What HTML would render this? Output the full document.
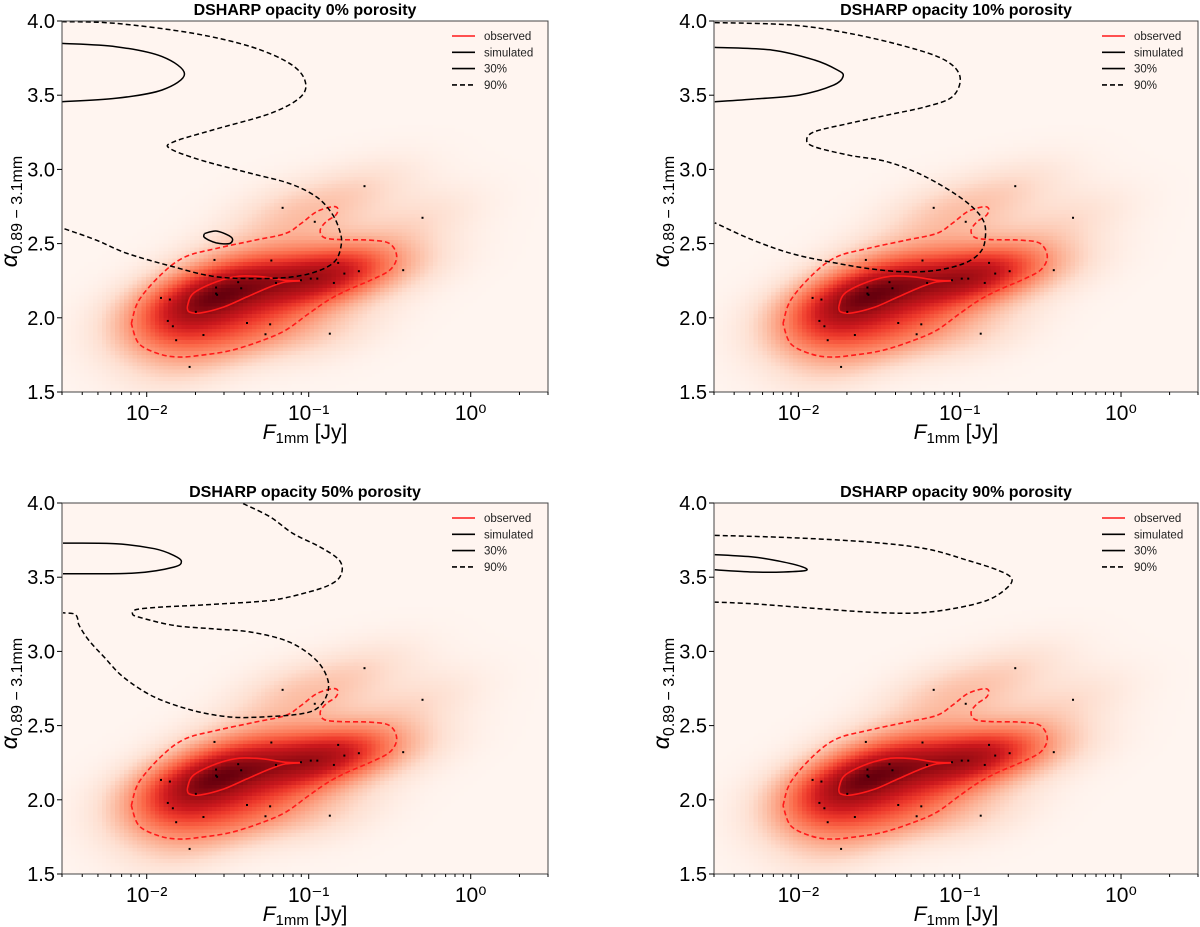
<!DOCTYPE html>
<html><head><meta charset="utf-8">
<style>
html,body{margin:0;padding:0;background:#fff;}
#wrap{position:relative;width:1200px;height:927px;overflow:hidden;font-family:"Liberation Sans","DejaVu Sans",sans-serif;}
canvas{position:absolute;image-rendering:pixelated;}
svg{position:absolute;left:0;top:0;}
</style></head>
<body>
<div id="wrap">
<svg id="svg" width="1200" height="927"></svg>
</div>
<script>
// observed disc data
const fluxJy = [0.221,0.069,0.504,0.109,0.0262,0.0588,0.152,0.383,0.204,0.166,0.103,0.113,0.0896,0.0367,0.0628,0.143,0.0383,0.0268,0.0268,0.0272,0.01225,0.0139,0.0201,0.0135,0.0416,0.0578,0.0145,0.0224,0.0541,0.135,0.0152,0.0184];
const alphaVals = [2.887,2.741,2.674,2.647,2.390,2.386,2.370,2.321,2.314,2.298,2.264,2.264,2.253,2.240,2.235,2.235,2.199,2.204,2.163,2.155,2.134,2.123,2.040,1.979,1.965,1.956,1.943,1.884,1.889,1.893,1.849,1.669];
const xTickLabels = ["10⁻²","10⁻¹","10⁰"];
const xTickValues = [-2,-1,0];
const yTickValues = [1.5,2.0,2.5,3.0,3.5,4.0];
const panelTitles = ["DSHARP opacity 0% porosity","DSHARP opacity 10% porosity","DSHARP opacity 50% porosity","DSHARP opacity 90% porosity"];
// observed contours [log10 F, alpha]
const obs90 = [[-2.095,1.961],[-2.048,2.118],[-1.905,2.298],[-1.762,2.411],[-1.571,2.467],[-1.333,2.523],[-1.143,2.568],[-1.048,2.635],[-0.952,2.714],[-0.857,2.748],[-0.821,2.737],[-0.833,2.692],[-0.893,2.647],[-0.929,2.590],[-0.905,2.541],[-0.810,2.527],[-0.619,2.523],[-0.5,2.5],[-0.457,2.411],[-0.5,2.321],[-0.619,2.253],[-0.762,2.186],[-0.881,2.118],[-1.0,2.028],[-1.143,1.916],[-1.286,1.848],[-1.476,1.781],[-1.667,1.747],[-1.810,1.736],[-1.929,1.759],[-2.048,1.826],[-2.095,1.961]];
const obs30 = [[-1.75,2.073],[-1.714,2.163],[-1.571,2.242],[-1.429,2.280],[-1.286,2.276],[-1.143,2.253],[-1.048,2.249],[-1.143,2.242],[-1.238,2.208],[-1.381,2.141],[-1.524,2.073],[-1.667,2.033],[-1.738,2.040],[-1.75,2.073]];
// simulated contours per panel
const sim90_p0 = [[-2.524,3.996],[-2.190,3.984],[-1.714,3.917],[-1.357,3.827],[-1.119,3.715],[-1.024,3.602],[-1.048,3.490],[-1.238,3.377],[-1.595,3.265],[-1.833,3.186],[-1.857,3.141],[-1.667,3.063],[-1.357,2.973],[-1.119,2.905],[-0.952,2.815],[-0.857,2.703],[-0.810,2.590],[-0.798,2.500],[-0.833,2.388],[-0.929,2.321],[-1.095,2.276],[-1.357,2.264],[-1.595,2.280],[-1.833,2.343],[-2.119,2.433],[-2.310,2.523],[-2.524,2.606]];
const sim30_p0 = [[-2.524,3.849],[-2.190,3.827],[-1.905,3.760],[-1.767,3.643],[-1.905,3.535],[-2.190,3.479],[-2.524,3.456]];
const sim30b_p0 = [[-1.643,2.568],[-1.567,2.584],[-1.476,2.541],[-1.488,2.501],[-1.571,2.505],[-1.643,2.541],[-1.643,2.568]];
const sim90_p1 = [[-2.518,3.989],[-2.043,3.973],[-1.686,3.917],[-1.330,3.827],[-1.093,3.737],[-0.998,3.625],[-1.045,3.490],[-1.211,3.422],[-1.449,3.366],[-1.686,3.310],[-1.900,3.254],[-1.948,3.197],[-1.900,3.152],[-1.686,3.096],[-1.449,3.051],[-1.211,2.950],[-0.974,2.793],[-0.855,2.658],[-0.843,2.523],[-0.879,2.433],[-0.974,2.366],[-1.140,2.321],[-1.330,2.309],[-1.568,2.332],[-1.805,2.377],[-2.043,2.433],[-2.280,2.523],[-2.518,2.640]];
const sim30_p1 = [[-2.518,3.822],[-2.162,3.804],[-1.900,3.737],[-1.758,3.670],[-1.722,3.629],[-1.781,3.568],[-1.995,3.501],[-2.280,3.474],[-2.518,3.456]];
const sim90_p2 = [[-1.405,3.996],[-1.238,3.906],[-1.095,3.793],[-0.929,3.703],[-0.810,3.613],[-0.798,3.523],[-0.857,3.456],[-1.0,3.400],[-1.238,3.344],[-1.595,3.317],[-1.905,3.299],[-2.060,3.283],[-2.088,3.254],[-2.048,3.231],[-1.833,3.175],[-1.595,3.152],[-1.357,3.130],[-1.119,3.063],[-0.952,2.939],[-0.881,2.804],[-0.893,2.692],[-0.952,2.613],[-1.048,2.579],[-1.238,2.561],[-1.476,2.557],[-1.714,2.602],[-1.952,2.692],[-2.143,2.826],[-2.262,2.961],[-2.357,3.074],[-2.417,3.175],[-2.429,3.231],[-2.452,3.254],[-2.517,3.260]];
const sim30_p2 = [[-2.517,3.730],[-2.190,3.726],[-1.952,3.692],[-1.833,3.647],[-1.786,3.607],[-1.833,3.568],[-2.071,3.528],[-2.517,3.523]];
const sim90_p3 = [[-2.518,3.782],[-2.043,3.766],[-1.568,3.737],[-1.211,3.692],[-0.950,3.613],[-0.760,3.546],[-0.677,3.490],[-0.713,3.422],[-0.831,3.344],[-1.045,3.287],[-1.283,3.258],[-1.568,3.265],[-1.924,3.292],[-2.280,3.321],[-2.518,3.332]];
const sim30_p3 = [[-2.518,3.652],[-2.280,3.636],[-2.114,3.607],[-1.983,3.573],[-1.952,3.546],[-2.090,3.535],[-2.280,3.535],[-2.518,3.550]];

const panels = [
 {x0:62,x1:548,y0:21,y1:392,d:[sim90_p0],s:[sim30_p0,sim30b_p0]},
 {x0:714,x1:1198,y0:21,y1:392,d:[sim90_p1],s:[sim30_p1]},
 {x0:62,x1:548,y0:503,y1:874,d:[sim90_p2],s:[sim30_p2]},
 {x0:714,x1:1198,y0:503,y1:874,d:[sim90_p3],s:[sim30_p3]}
];
const LX0=Math.log10(0.003), LX1=Math.log10(3), Y0=1.5, Y1=4.0;
const svg=document.getElementById('svg');
const NS='http://www.w3.org/2000/svg';
function mk(tag,attrs,parent){const e=document.createElementNS(NS,tag);for(const k in attrs)e.setAttribute(k,attrs[k]);(parent||svg).appendChild(e);return e;}
const reds=[[255,245,240],[254,224,210],[252,187,161],[252,146,114],[251,106,74],[239,59,44],[203,24,29],[165,15,21],[103,0,13]];
function cmap(t){t=Math.max(0,Math.min(1,t))*8;const i=Math.min(7,Math.floor(t)),f=t-i;const a=reds[i],b=reds[i+1];return [a[0]+(b[0]-a[0])*f,a[1]+(b[1]-a[1])*f,a[2]+(b[2]-a[2])*f];}
// KDE grid
const NX=110,NY=100,bx=0.27,by=0.15,rho=0.45;
const grid=[];let gmax=0;
for(let j=0;j<NY;j++){for(let i=0;i<NX;i++){const lx=LX0+(i+0.5)/NX*(LX1-LX0);const ay=Y1-(j+0.5)/NY*(Y1-Y0);let s=0;
 for(let k=0;k<fluxJy.length;k++){const dx=(lx-Math.log10(fluxJy[k]))/bx,dy=(ay-alphaVals[k])/by;
  s+=Math.exp(-0.5*(dx*dx+dy*dy-2*rho*dx*dy)/(1-rho*rho));}
 grid.push(s);if(s>gmax)gmax=s;}}
function smooth(pts){
 let d='M'+pts[0][0].toFixed(1)+','+pts[0][1].toFixed(1);
 for(let i=0;i<pts.length-1;i++){const p0=pts[Math.max(0,i-1)],p1=pts[i],p2=pts[i+1],p3=pts[Math.min(pts.length-1,i+2)];
  const c1=[p1[0]+(p2[0]-p0[0])/6,p1[1]+(p2[1]-p0[1])/6],c2=[p2[0]-(p3[0]-p1[0])/6,p2[1]-(p3[1]-p1[1])/6];
  d+='C'+c1[0].toFixed(1)+','+c1[1].toFixed(1)+' '+c2[0].toFixed(1)+','+c2[1].toFixed(1)+' '+p2[0].toFixed(1)+','+p2[1].toFixed(1);}
 return d;}
panels.forEach((p,pi)=>{
 const sx=l=>p.x0+(l-LX0)/(LX1-LX0)*(p.x1-p.x0);
 const sy=a=>p.y1-(a-Y0)/(Y1-Y0)*(p.y1-p.y0);
 const cv=document.createElement('canvas');cv.width=NX;cv.height=NY;
 cv.style.left=p.x0+'px';cv.style.top=p.y0+'px';cv.style.width=(p.x1-p.x0)+'px';cv.style.height=(p.y1-p.y0)+'px';
 
 
 document.getElementById('wrap').insertBefore(cv,svg);
 const ctx=cv.getContext('2d');const img=ctx.createImageData(NX,NY);
 for(let q=0;q<NX*NY;q++){const c=cmap(grid[q]/gmax);img.data[q*4]=c[0];img.data[q*4+1]=c[1];img.data[q*4+2]=c[2];img.data[q*4+3]=255;}
 ctx.putImageData(img,0,0);
 const g=mk('g',{});
 
 
 const clipId='clip'+pi;const cp=mk('clipPath',{id:clipId},g);mk('rect',{x:p.x0,y:p.y0,width:p.x1-p.x0,height:p.y1-p.y0},cp);
 const pg=mk('g',{'clip-path':'url(#'+clipId+')'},g);
 const path=pts=>smooth(pts.map(q=>[sx(q[0]),sy(q[1])]));
 let e=mk('path',{d:path(obs90),fill:'none',stroke:'#ff1a1a','stroke-width':1.6,'stroke-dasharray':'5,3','stroke-linejoin':'round'},pg);
 
 e=mk('path',{d:path(obs30),fill:'none',stroke:'#ff1a1a','stroke-width':1.6,'stroke-linejoin':'round'},pg);
 
 p.d.forEach(c=>{const el=mk('path',{d:path(c),fill:'none',stroke:'#000','stroke-width':1.5,'stroke-dasharray':'5,3','stroke-linejoin':'round'},pg);
  });
 p.s.forEach(c=>{const el=mk('path',{d:path(c),fill:'none',stroke:'#000','stroke-width':1.5,'stroke-linejoin':'round'},pg);
  });
 for(let k=0;k<fluxJy.length;k++){const el=mk('rect',{x:sx(Math.log10(fluxJy[k]))-1,y:sy(alphaVals[k])-1,width:2,height:2,fill:'#000'},pg);
  }
 const fr=mk('rect',{x:p.x0,y:p.y0,width:p.x1-p.x0,height:p.y1-p.y0,fill:'none',stroke:'#444','stroke-width':1},g);
 
 yTickValues.forEach(v=>{const y=sy(v);mk('line',{x1:p.x0-5,x2:p.x0,y1:y,y2:y,stroke:'#000'},g);
  const t=mk('text',{x:p.x0-7,y:y+7,'text-anchor':'end','font-size':20,fill:'#000'},g);t.textContent=v.toFixed(1);
  });
 for(let d=-3;d<=0;d++){for(let m=1;m<10;m++){const l=d+Math.log10(m);if(l<LX0||l>LX1)continue;const x=sx(l);mk('line',{x1:x,x2:x,y1:p.y1,y2:p.y1+(m==1?5:3),stroke:'#000'},g);}}
 xTickValues.forEach((v,i)=>{const t=mk('text',{x:sx(v),y:p.y1+28,'text-anchor':'middle','font-size':21,fill:'#000'},g);t.textContent=xTickLabels[i];
  });
 const xc=(p.x0+p.x1)/2;
 let t=mk('text',{x:xc,y:p.y1+47,'text-anchor':'middle','font-size':21,fill:'#000'},g);
 t.innerHTML='<tspan font-style="italic">F</tspan><tspan font-size="15" dy="4">1mm</tspan><tspan dy="-4"> [Jy]</tspan>';
 
 const yc=(p.y0+p.y1)/2;
 t=mk('text',{x:0,y:0,'text-anchor':'middle','font-size':23,fill:'#000',transform:'translate('+(p.x0-45)+','+(yc+5)+') rotate(-90)'},g);
 t.innerHTML='<tspan font-style="italic">α</tspan><tspan font-size="16" dy="5">0.89 − 3.1mm</tspan>';
 
 t=mk('text',{x:xc,y:p.y0-6,'text-anchor':'middle','font-size':16,'font-weight':'bold',fill:'#000'},g);t.textContent=panelTitles[pi];
 
 const lg=mk('g',{},g);
 const items=[['observed','#ff1a1a',''],['simulated','#000',''],['30%','#000',''],['90%','#000','5,3']];
 items.forEach((it,i)=>{const y=p.y0+15+i*16.3;const lx=p.x1-96;
  mk('line',{x1:lx,x2:lx+23,y1:y,y2:y,stroke:it[1],'stroke-width':1.6,'stroke-dasharray':it[2]},lg);
  const tt=mk('text',{x:lx+32,y:y+4,'font-size':11.5,fill:'#222'},lg);tt.textContent=it[0];
  });
});
</script>
</body></html>
